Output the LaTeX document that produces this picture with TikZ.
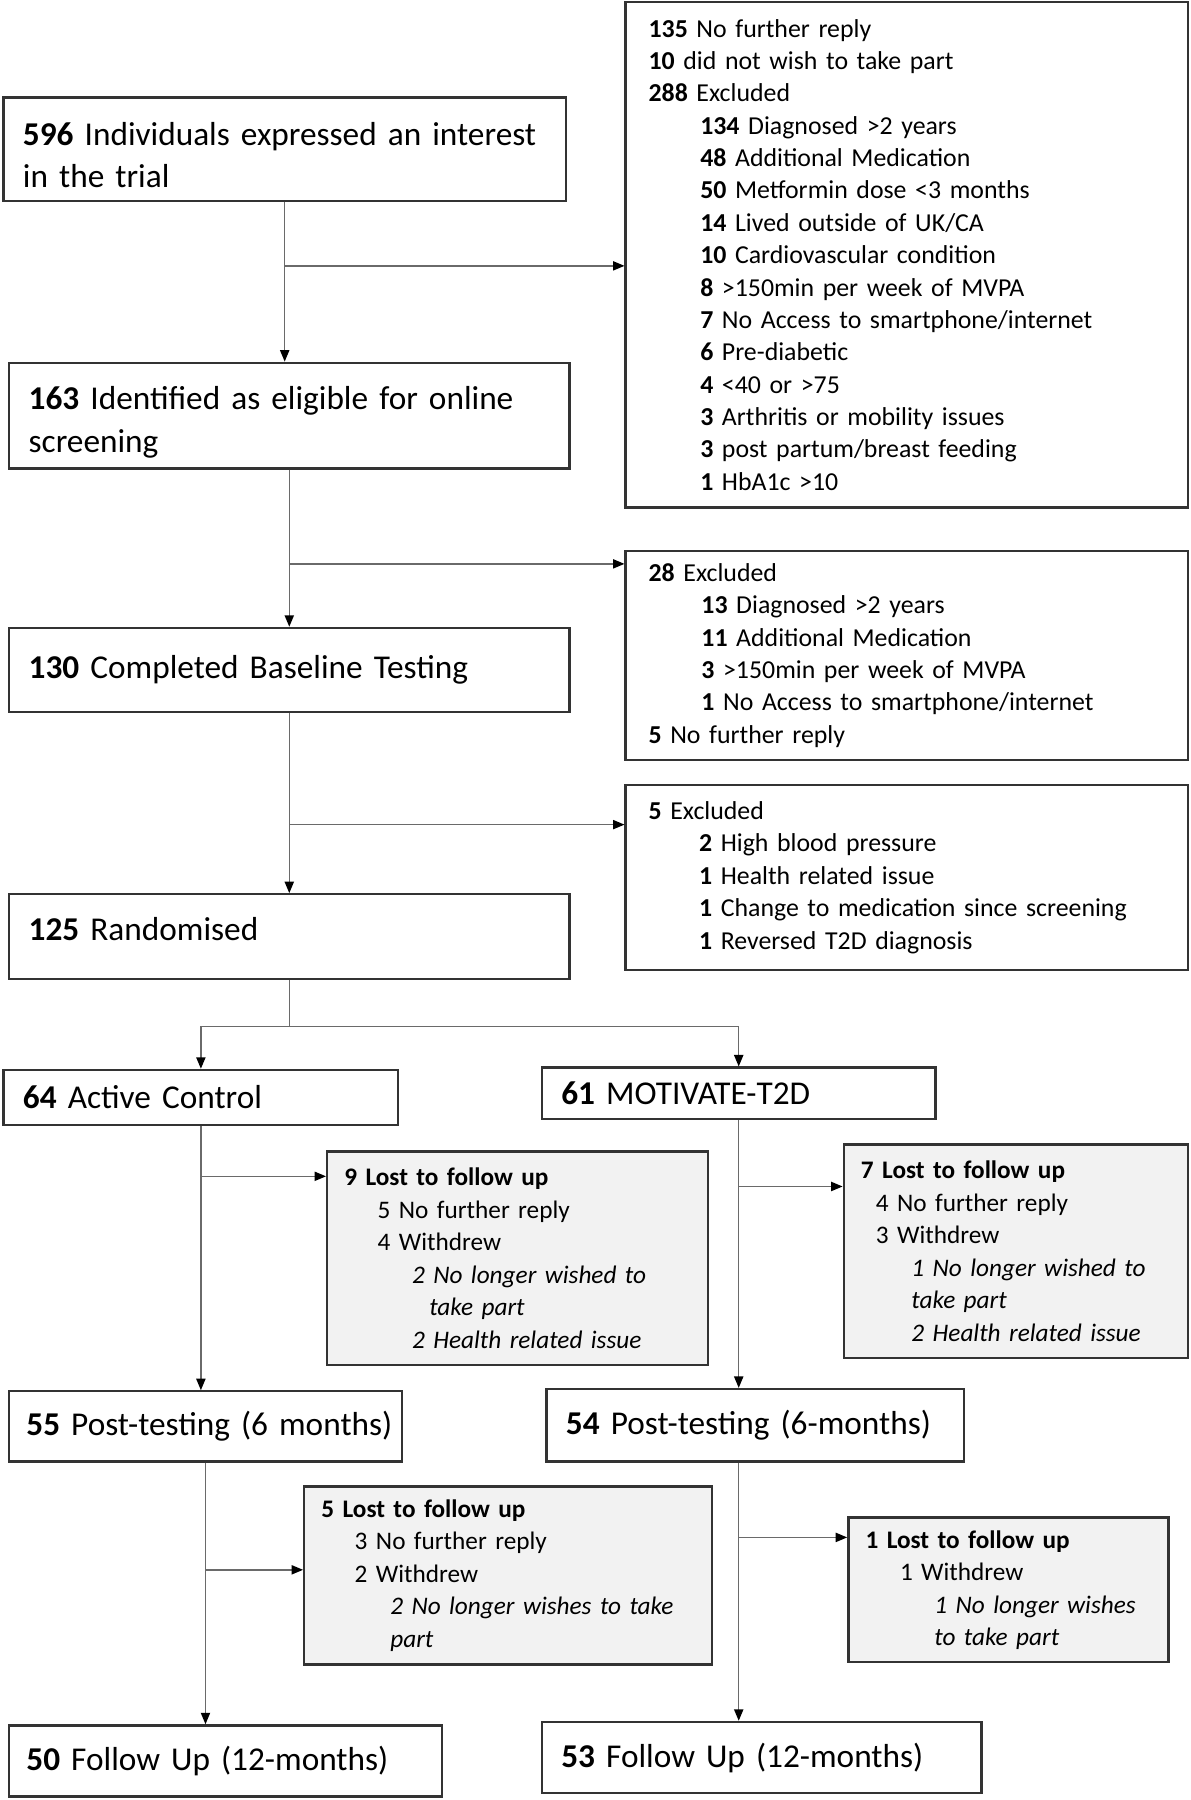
\documentclass[tikz,border=0pt]{standalone}
\usepackage{fontspec}
\setmainfont{Carlito}
\usetikzlibrary{calc,arrows.meta}
\definecolor{boxgray}{HTML}{333333}
\definecolor{linegray}{HTML}{6A6A6A}
\definecolor{lostfill}{HTML}{F2F2F2}
\tikzset{
	mainbox/.style={draw=boxgray, line width=2pt, inner xsep=17pt, inner ysep=0pt, align=left, font=\fontsize{29}{37}\selectfont},
	sidebox/.style={draw=boxgray, line width=2pt, inner xsep=20pt, inner ysep=0pt, align=left, font=\fontsize{22.5}{28.2}\selectfont},
	lostbox/.style={sidebox, fill=lostfill, inner xsep=15pt, font=\fontsize{22}{28.3}\selectfont},
	arr/.style={draw=linegray, line width=1.3pt, -{Triangle[length=10pt,width=8pt,color=black]}},
	link/.style={draw=linegray, line width=1.3pt}
}
\newcommand{\indt}[1]{\hspace*{#1pt}}

\begin{document}
\begin{tikzpicture}[x=1pt, y=-1pt]
			%%%%% START %%%%%
			\useasboundingbox (0,0) rectangle (1037,1568);
			
			% main column
			\node[mainbox, minimum height=90pt, text width=456pt, text height=30pt] (n596) at (248,130) {\textbf{596} Individuals expressed an interest\\in the trial};
			\node[mainbox, minimum height=92pt, text width=454pt, text height=32pt] (n163) at (252,362) {\textbf{163} Identified as eligible for online\\screening};
			\node[mainbox, minimum height=73pt, text width=454pt] (n130) at (252,583.5) {\textbf{130} Completed Baseline Testing};
			\node[mainbox, minimum height=74pt, text width=454pt, text depth=14pt] (n125) at (252,816) {\textbf{125} Randomised};
			
			% exclusions
			\node[sidebox, minimum height=440pt, text width=450pt] (ex1) at (790,222) {\textbf{135} No further reply\\
				\textbf{10} did not wish to take part\\
				\textbf{288} Excluded\\
				\indt{45}\textbf{134} Diagnosed >2 years\\
				\indt{45}\textbf{48} Additional Medication\\
				\indt{45}\textbf{50} Metformin dose <3 months\\
				\indt{45}\textbf{14} Lived outside of UK/CA\\
				\indt{45}\textbf{10} Cardiovascular condition\\
				\indt{45}\textbf{8} >150min per week of MVPA\\
				\indt{45}\textbf{7} No Access to smartphone/internet\\
				\indt{45}\textbf{6} Pre-diabetic\\
				\indt{45}\textbf{4} <40 or >75\\
				\indt{45}\textbf{3} Arthritis or mobility issues\\
				\indt{45}\textbf{3} post partum/breast feeding\\
				\indt{45}\textbf{1} HbA1c >10};
			\node[sidebox, minimum height=182pt, text width=450pt] (ex2) at (790,571) {\textbf{28} Excluded\\
				\indt{46}\textbf{13} Diagnosed >2 years\\
				\indt{46}\textbf{11} Additional Medication\\
				\indt{46}\textbf{3} >150min per week of MVPA\\
				\indt{46}\textbf{1} No Access to smartphone/internet\\
				\textbf{5} No further reply};
			\node[sidebox, minimum height=161pt, text width=450pt] (ex3) at (790,764.5) {\textbf{5} Excluded\\
				\indt{44}\textbf{2} High blood pressure\\
				\indt{44}\textbf{1} Health related issue\\
				\indt{44}\textbf{1} Change to medication since screening\\
				\indt{44}\textbf{1} Reversed T2D diagnosis};
			
			% arms
			\node[mainbox, minimum height=48pt, text width=310pt] (n64) at (175,956) {\textbf{64} Active Control};
			\node[mainbox, minimum height=45pt, text width=309pt] (n61) at (643.5,952.5) {\textbf{61} MOTIVATE-T2D};
			\node[mainbox, minimum height=61pt, inner xsep=15pt, text width=312pt] (n55) at (179,1242.5) {\mbox{\textbf{55} Post-testing (6 months)}};
			\node[mainbox, minimum height=63pt, text width=330pt] (n54) at (658,1241.5) {\textbf{54} Post-testing (6-months)};
			\node[mainbox, minimum height=62pt, inner xsep=15pt, text width=347pt] (n50) at (196.5,1534) {\textbf{50} Follow Up (12-months)};
			\node[mainbox, minimum height=62pt, text width=349pt] (n53) at (663.5,1531) {\textbf{53} Follow Up (12-months)};
			
			% lost to follow up
			\node[lostbox, minimum height=186pt, text width=302pt] (lost64) at (451,1096) {\textbf{9 Lost to follow up}\\
				\indt{29}5 No further reply\\
				\indt{29}4 Withdrew\\
				\indt{59}\textit{2 No longer wished to}\\
				\indt{74}\textit{take part}\\
				\indt{59}\textit{2 Health related issue}};
			\node[lostbox, minimum height=186pt, text width=270pt] (lost61) at (885,1090) {\textbf{7 Lost to follow up}\\
				\indt{13}4 No further reply\\
				\indt{13}3 Withdrew\\
				\indt{44}\textit{1 No longer wished to}\\
				\indt{44}\textit{take part}\\
				\indt{44}\textit{2 Health related issue}};
			\node[lostbox, minimum height=155pt, text width=325pt] (lost55) at (442.5,1372.5) {\textbf{5 Lost to follow up}\\
				\indt{29}3 No further reply\\
				\indt{29}2 Withdrew\\
				\indt{60}\textit{2 No longer wishes to take}\\
				\indt{60}\textit{part}};
			\node[lostbox, minimum height=126pt, text width=249pt] (lost54) at (878.5,1385) {\textbf{1 Lost to follow up}\\
				\indt{30}1 Withdrew\\
				\indt{60}\textit{1 No longer wishes}\\
				\indt{60}\textit{to take part}};
			
			% connectors
			\coordinate (j1) at ($(n596.south)!0.4!(n596.south |- n163.north)$);
			\coordinate (j2) at ($(n163.south)!0.6!(n163.south |- n130.north)$);
			\coordinate (j3) at ($(n130.south)!0.62!(n130.south |- n125.north)$);
			\draw[arr] (n596.south) -- (n596.south |- n163.north);
			\draw[arr] (j1) -- (j1 -| ex1.west);
			\draw[arr] (n163.south) -- (n163.south |- n130.north);
			\draw[arr] (j2) -- (j2 -| ex2.west);
			\draw[arr] (n130.south) -- (n130.south |- n125.north);
			\draw[arr] (j3) -- (j3 -| ex3.west);
			
			\coordinate (split) at ($(n125.south)+(0,40)$);
			\draw[link] (n125.south) -- (split);
			\draw[arr] (split) -| (n64.north);
			\draw[arr] (split) -| (n61.north);
			
			\coordinate (j4) at ($(n64.south)!0.19!(n64.south |- n55.north)$);
			\coordinate (j5) at ($(n61.south)!0.247!(n61.south |- n54.north)$);
			\draw[arr] (n64.south) -- (n64.south |- n55.north);
			\draw[arr] (j4) -- (j4 -| lost64.west);
			\draw[arr] (n61.south) -- (n61.south |- n54.north);
			\draw[arr] (j5) -- (j5 -| lost61.west);
			
			\coordinate (j6) at ($(n55.south)!0.41!(n55.south |- n50.north)$);
			\coordinate (j7) at ($(n61.south |- n54.south)!0.29!(n61.south |- n53.north)$);
			\draw[arr] (n55.south) -- (n55.south |- n50.north);
			\draw[arr] (j6) -- (j6 -| lost55.west);
			\draw[arr] (n61.south |- n54.south) -- (n61.south |- n53.north);
			\draw[arr] (j7) -- (j7 -| lost54.west);
			%%%%% END %%%%%
\end{tikzpicture}
\end{document}
